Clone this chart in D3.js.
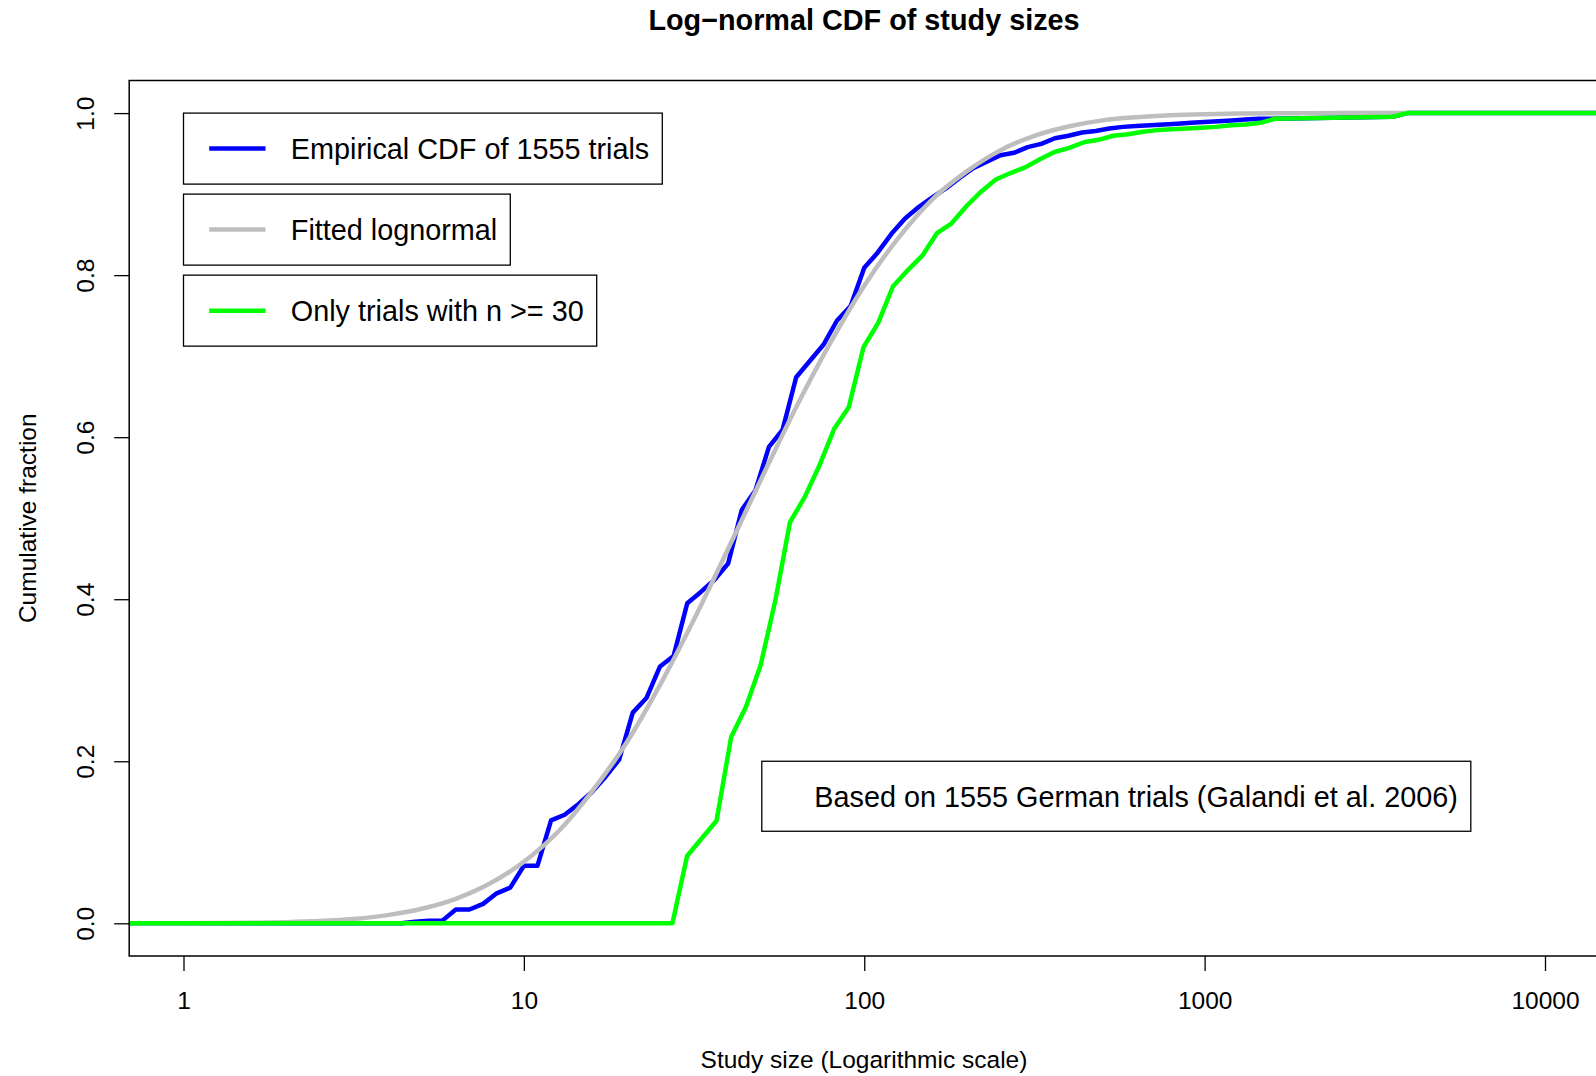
<!DOCTYPE html>
<html>
<head>
<meta charset="utf-8">
<script src="https://cdn.jsdelivr.net/npm/d3@7"></script>
<style>
  html, body { margin: 0; padding: 0; background: #ffffff; }
  svg { display: block; font-family: "Liberation Sans", Arial, Helvetica, sans-serif; }
</style>
</head>
<body>
<svg id="chart" width="1596" height="1076"></svg>
<script>
// Empirical CDF of all 1555 trials, evaluated on a log-spaced grid of study sizes
const empiricalSizes = [0.69, 4.37, 4.79, 5.25, 5.75, 6.31, 6.92, 7.59, 8.32, 9.12, 10, 10.96, 12.02, 13.18, 14.45,
  15.85, 17.38, 19.05, 20.89, 22.91, 25.12, 27.54, 30.2, 33.11, 36.31, 39.81, 43.65, 47.86, 52.48, 57.54,
  63.1, 69.18, 75.86, 83.18, 91.2, 100, 109.6, 120.2, 131.8, 144.5, 158.5, 173.8, 190.5, 208.9, 229.1,
  251.2, 275.4, 302, 331.1, 363.1, 398.1, 436.5, 478.6, 524.8, 575.4, 631, 691.8, 758.6, 831.8, 912,
  1000, 1096, 1202, 1318, 1445, 1585, 3565, 3938, 17000];
const empiricalFraction = [0, 0, 0.002, 0.003, 0.003, 0.017, 0.017, 0.024, 0.037, 0.044, 0.071, 0.071, 0.127, 0.134, 0.147,
  0.162, 0.181, 0.202, 0.260, 0.278, 0.317, 0.330, 0.395, 0.409, 0.424, 0.444, 0.510, 0.534, 0.588, 0.609,
  0.674, 0.694, 0.714, 0.744, 0.762, 0.809, 0.828, 0.851, 0.870, 0.884, 0.896, 0.907, 0.920, 0.932, 0.940,
  0.948, 0.951, 0.958, 0.962, 0.969, 0.972, 0.976, 0.978, 0.981, 0.983, 0.984, 0.985, 0.986, 0.987, 0.988,
  0.989, 0.990, 0.991, 0.992, 0.993, 0.993, 0.9955, 1.0, 1.0];

// Fitted lognormal CDF
const fittedSizes = [0.63, 1, 1.26, 1.58, 2, 2.51, 3.16, 3.98, 5.01, 6.31, 7.94, 10, 12.6, 15.8, 20, 25.1, 31.6,
  39.8, 50.1, 63.1, 79.4, 100, 126, 158, 200, 251, 316, 398, 501, 631, 794, 1000, 1259, 1585, 2512, 3981, 17783];
const fittedFraction = [0.00002, 0.00013, 0.0003, 0.00065, 0.0014, 0.0028, 0.0054, 0.0101, 0.0179, 0.0302, 0.049,
  0.076, 0.113, 0.162, 0.2225, 0.294, 0.375, 0.462, 0.5505, 0.637, 0.716, 0.787, 0.846, 0.893, 0.928, 0.954,
  0.972, 0.9835, 0.991, 0.995, 0.9974, 0.9987, 0.9994, 0.9997, 1.0, 1.0, 1.0];

// Empirical CDF restricted to trials with n >= 30
const largeSizes = [0.69, 27.32, 30.17, 33.33, 36.81, 40.65, 44.9, 49.6, 54.78, 60.5, 66.83, 73.82, 81.53, 90.06,
  99.47, 109.9, 121.4, 134.1, 148.1, 163.6, 180.6, 199.5, 220.4, 243.4, 268.9, 297, 328, 362.2, 400.1, 441.9,
  488.1, 539.1, 595.4, 657.7, 726.4, 802.3, 886.2, 978.8, 1081, 1194, 1319, 1457, 1609, 3565, 3938, 17500];
const largeFraction = [0, 0, 0.083, 0.105, 0.1265, 0.230, 0.267, 0.3185, 0.398, 0.495, 0.526, 0.565, 0.610, 0.637,
  0.711, 0.741, 0.786, 0.806, 0.824, 0.852, 0.864, 0.885, 0.903, 0.918, 0.926, 0.933, 0.943, 0.952, 0.957, 0.964,
  0.967, 0.972, 0.974, 0.977, 0.979, 0.980, 0.981, 0.982, 0.983, 0.985, 0.986, 0.988, 0.993, 0.9955, 1.0, 1.0];

const xTicks = [1, 10, 100, 1000, 10000];
const yTicks = [0, 0.2, 0.4, 0.6, 0.8, 1.0];
const yTickLabels = ["0.0", "0.2", "0.4", "0.6", "0.8", "1.0"];

const seriesNames = ["Empirical CDF of 1555 trials", "Fitted lognormal", "Only trials with n >= 30"];
const seriesColors = ["#0000ff", "#bebebe", "#00ff00"];
const legendTops = [1.0, 0.9, 0.8];
const noteText = "Based on 1555 German trials (Galandi et al. 2006)";
const noteAnchor = [50, 0.2];

const titleText = "Log\u2212normal CDF of study sizes";
const xTitle = "Study size (Logarithmic scale)";
const yTitle = "Cumulative fraction";

// ---- layout ----
const plot = { left: 129.2, top: 80.5, right: 1599, bottom: 956 };
const baseFont = 24.5;
const svg = d3.select("#chart");

const x = d3.scaleLog().domain([1, 10000]).range([183.5, 1545]);
const y = d3.scaleLinear().domain([0, 1]).range([923.3, 113.1]);

svg.append("defs").append("clipPath").attr("id", "plotClip")
  .append("rect")
  .attr("x", plot.left).attr("y", plot.top)
  .attr("width", plot.right - plot.left).attr("height", plot.bottom - plot.top);

// ---- data lines (blue, then gray, then green on top) ----
const lineGen = d3.line().x(d => x(d[0])).y(d => y(d[1]));
const smoothGen = d3.line().x(d => x(d[0])).y(d => y(d[1])).curve(d3.curveMonotoneX);

const lines = svg.append("g").attr("clip-path", "url(#plotClip)");
lines.append("path")
  .datum(d3.zip(empiricalSizes, empiricalFraction))
  .attr("d", lineGen)
  .attr("fill", "none").attr("stroke", seriesColors[0])
  .attr("stroke-width", 4.5).attr("stroke-linejoin", "round").attr("stroke-linecap", "round");
lines.append("path")
  .datum(d3.zip(fittedSizes, fittedFraction))
  .attr("d", smoothGen)
  .attr("fill", "none").attr("stroke", seriesColors[1])
  .attr("stroke-width", 4.5).attr("stroke-linejoin", "round").attr("stroke-linecap", "round");
lines.append("path")
  .datum(d3.zip(largeSizes, largeFraction))
  .attr("d", lineGen)
  .attr("fill", "none").attr("stroke", seriesColors[2])
  .attr("stroke-width", 4.5).attr("stroke-linejoin", "round").attr("stroke-linecap", "round");

// ---- frame ----
svg.append("rect")
  .attr("x", plot.left).attr("y", plot.top)
  .attr("width", plot.right - plot.left).attr("height", plot.bottom - plot.top)
  .attr("fill", "none").attr("stroke", "#000").attr("stroke-width", 1.5);

// ---- axes ----
const xAxis = svg.append("g")
  .attr("transform", `translate(0,${plot.bottom})`)
  .call(d3.axisBottom(x).tickValues(xTicks).tickFormat(d3.format("d")).tickSize(15).tickPadding(21));
xAxis.select(".domain").remove();
xAxis.selectAll(".tick line").attr("stroke", "#000").attr("stroke-width", 1.3);
xAxis.selectAll(".tick text")
  .attr("font-family", "Liberation Sans, Arial, sans-serif")
  .attr("font-size", baseFont).attr("fill", "#000");

const yAxis = svg.append("g")
  .attr("transform", `translate(${plot.left},0)`)
  .call(d3.axisLeft(y).tickValues(yTicks).tickFormat((d, i) => yTickLabels[i]).tickSize(15));
yAxis.select(".domain").remove();
yAxis.selectAll(".tick line").attr("stroke", "#000").attr("stroke-width", 1.3);
yAxis.selectAll(".tick text")
  .attr("font-family", "Liberation Sans, Arial, sans-serif")
  .attr("font-size", baseFont).attr("fill", "#000")
  .attr("transform", "rotate(-90)")
  .attr("text-anchor", "middle")
  .attr("x", 0).attr("dy", 0)
  .attr("y", 93.5 - plot.left);

// ---- titles ----
svg.append("text")
  .attr("x", 864).attr("y", 30)
  .attr("text-anchor", "middle")
  .attr("font-size", 28.8).attr("font-weight", "bold")
  .text(titleText);

svg.append("text")
  .attr("x", 864).attr("y", 1067.5)
  .attr("text-anchor", "middle")
  .attr("font-size", baseFont)
  .text(xTitle);

svg.append("text")
  .attr("transform", `translate(36,${(plot.top + plot.bottom) / 2}) rotate(-90)`)
  .attr("text-anchor", "middle")
  .attr("font-size", baseFont)
  .text(yTitle);

// ---- legend boxes ----
const boxH = 71;
seriesNames.forEach((name, i) => {
  const bx = x(1), by = y(legendTops[i]);
  const g = svg.append("g");
  const rect = g.append("rect")
    .attr("x", bx).attr("y", by).attr("height", boxH)
    .attr("fill", "#fff").attr("stroke", "#000").attr("stroke-width", 1.3);
  g.append("line")
    .attr("x1", bx + 25.7).attr("x2", bx + 82)
    .attr("y1", by + boxH / 2).attr("y2", by + boxH / 2)
    .attr("stroke", seriesColors[i]).attr("stroke-width", 4.5);
  const t = g.append("text")
    .attr("x", bx + 107.3).attr("y", by + boxH / 2 + 10.3)
    .attr("font-size", 28.8)
    .text(name);
  const w = t.node().getComputedTextLength();
  rect.attr("width", 107.3 + w + 13);
});

// note box
{
  const bx = x(noteAnchor[0]), by = y(noteAnchor[1]);
  const g = svg.append("g");
  const rect = g.append("rect")
    .attr("x", bx).attr("y", by).attr("height", 70)
    .attr("fill", "#fff").attr("stroke", "#000").attr("stroke-width", 1.3);
  const t = g.append("text")
    .attr("x", bx + 52.5).attr("y", by + 35 + 10.3)
    .attr("font-size", 28.8)
    .text(noteText);
  const w = t.node().getComputedTextLength();
  rect.attr("width", 52.5 + w + 13);
}
</script>
</body>
</html>
